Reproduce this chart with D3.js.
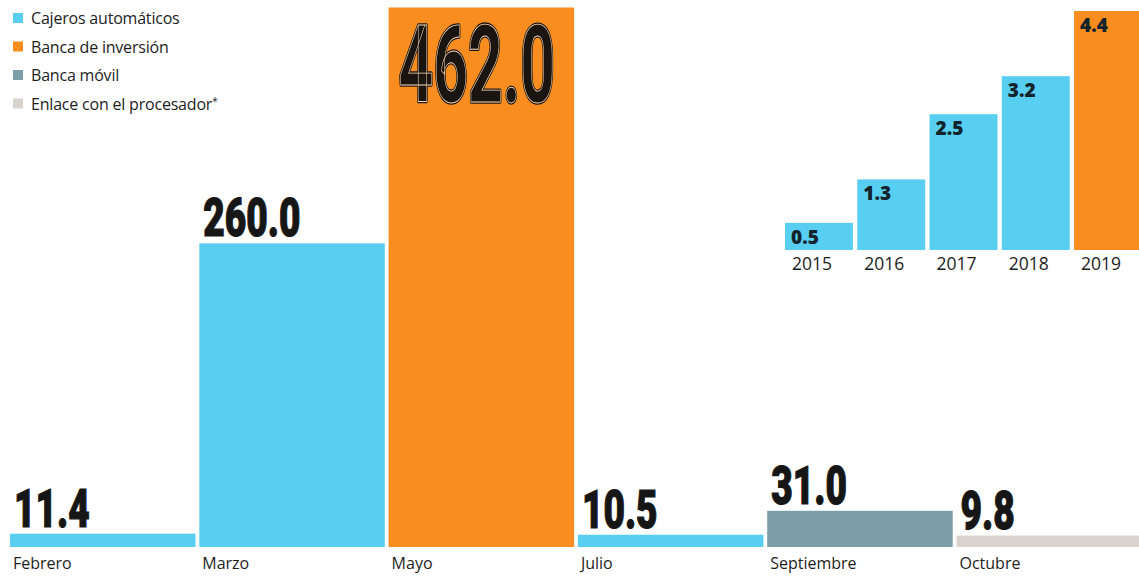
<!DOCTYPE html>
<html>
<head>
<meta charset="utf-8">
<script src="https://cdn.jsdelivr.net/npm/d3@7"></script>
<style>
  body { margin: 0; background: #fff; }
  svg { display: block; }
</style>
</head>
<body>
<svg id="chart" width="1139" height="576"></svg>
<script>
// datos principales (millones)
var months = ["Febrero", "Marzo", "Mayo", "Julio", "Septiembre", "Octubre"];
var monthValues = [11.4, 260.0, 462.0, 10.5, 31.0, 9.8];
var monthTypes = ["Cajeros automáticos", "Cajeros automáticos", "Banca de inversión",
                  "Cajeros automáticos", "Banca móvil", "Enlace con el procesador"];

// recuadro anual
var years = ["2015", "2016", "2017", "2018", "2019"];
var yearValues = [0.5, 1.3, 2.5, 3.2, 4.4];
var yearTypes = ["Cajeros automáticos", "Cajeros automáticos", "Cajeros automáticos",
                 "Cajeros automáticos", "Banca de inversión"];

var legendItems = ["Cajeros automáticos", "Banca de inversión", "Banca móvil", "Enlace con el procesador"];

var color = d3.scaleOrdinal()
    .domain(legendItems)
    .range(["#58cff0", "#f98d1f", "#7c9ea9", "#d9d3ce"]);

var svg = d3.select("#chart");
var bodyFont = "'Open Sans', sans-serif";
var numFont = "Roboto, 'DejaVu Sans', sans-serif";

// escalas del grafico principal
var x = d3.scaleBand()
    .domain(months)
    .range([10, 1142])
    .paddingInner(0.02);

var y = d3.scaleLinear()
    .domain([0, 462])
    .range([547, 7.5]);

var main = svg.append("g");

main.selectAll(".bar")
    .data(months)
  .enter().append("rect")
    .attr("class", "bar")
    .attr("x", function(d) { return x(d); })
    .attr("y", function(d, i) { return y(monthValues[i]); })
    .attr("width", x.bandwidth())
    .attr("height", function(d, i) { return y(0) - y(monthValues[i]); })
    .attr("fill", function(d, i) { return color(monthTypes[i]); });

// eje x sin linea, solo etiquetas
var xAxis = main.append("g")
    .attr("transform", "translate(0," + y(0) + ")")
    .call(d3.axisBottom(x).tickSize(0).tickPadding(0));
xAxis.select(".domain").remove();
xAxis.selectAll(".tick text")
    .attr("text-anchor", "start")
    .attr("x", -x.bandwidth() / 2 + 3)
    .attr("dy", "22px")
    .style("font-family", bodyFont)
    .style("font-size", "16px")
    .style("fill", "#1d1d1d");

// etiquetas de valor (fuente condensada)
main.selectAll(".val")
    .data(months.filter(function(d, i) { return monthValues[i] < 400; }))
  .enter().append("text")
    .attr("class", "val")
    .attr("transform", function(d) {
        var i = months.indexOf(d);
        return "translate(" + (x(d) + 4) + "," + (y(monthValues[i]) - 7) + ") scale(0.7,1)";
    })
    .style("font-family", numFont)
    .style("font-weight", "900")
    .style("font-size", "53px")
    .style("fill", "#161616")
    .style("stroke", "#161616")
    .style("stroke-width", "1.2px")
    .text(function(d) { return monthValues[months.indexOf(d)].toFixed(1); });

// etiqueta grande dentro de la barra de mayo
var big = months.filter(function(d, i) { return monthValues[i] >= 400; });
big.forEach(function(d) {
    var v = monthValues[months.indexOf(d)];
    var t = "translate(" + (x(d) + 10) + "," + (y(v) + 94) + ") scale(0.56,1)";
    main.append("text")
        .attr("transform", t)
        .style("font-family", numFont)
        .style("font-weight", "700")
        .style("font-size", "108px")
        .style("fill", "#1b1511")
        .style("stroke", "#1b1511")
        .style("stroke-width", "3.5px")
        .style("stroke-linejoin", "round")
        .text(v.toFixed(1));
    main.append("text")
        .attr("transform", t)
        .style("font-family", numFont)
        .style("font-weight", "700")
        .style("font-size", "108px")
        .style("fill", "none")
        .style("stroke", "#f3d3ae")
        .style("stroke-width", "0.9px")
        .text(v.toFixed(1));
});

// recuadro 2015-2019
var xi = d3.scaleBand()
    .domain(years)
    .range([785, 1142])
    .paddingInner(0.06);

var yi = d3.scaleLinear()
    .domain([0, 4.4])
    .range([250, 11]);

var inset = svg.append("g");

inset.selectAll(".ibar")
    .data(years)
  .enter().append("rect")
    .attr("class", "ibar")
    .attr("x", function(d) { return xi(d); })
    .attr("y", function(d, i) { return yi(yearValues[i]); })
    .attr("width", xi.bandwidth())
    .attr("height", function(d, i) { return yi(0) - yi(yearValues[i]); })
    .attr("fill", function(d, i) { return color(yearTypes[i]); });

inset.selectAll(".ival")
    .data(years)
  .enter().append("text")
    .attr("class", "ival")
    .attr("x", function(d) { return xi(d) + 6; })
    .attr("y", function(d, i) { return yi(yearValues[i]) + 21; })
    .style("font-family", bodyFont)
    .style("font-weight", "800")
    .style("font-size", "19px")
    .style("fill", "#13232b")
    .text(function(d, i) { return yearValues[i].toFixed(1); });

var iAxis = inset.append("g")
    .attr("transform", "translate(0," + yi(0) + ")")
    .call(d3.axisBottom(xi).tickSize(0).tickPadding(0));
iAxis.select(".domain").remove();
iAxis.selectAll(".tick text")
    .attr("text-anchor", "start")
    .attr("x", -xi.bandwidth() / 2 + 7)
    .attr("dy", "20px")
    .style("font-family", bodyFont)
    .style("font-size", "17.5px")
    .style("fill", "#1d1d1d");

// leyenda
var legend = svg.append("g")
    .attr("transform", "translate(13,0)");

var item = legend.selectAll(".leg")
    .data(legendItems)
  .enter().append("g")
    .attr("class", "leg")
    .attr("transform", function(d, i) { return "translate(0," + (24 + i * 28.5) + ")"; });

item.append("rect")
    .attr("x", 0)
    .attr("y", -11)
    .attr("width", 10)
    .attr("height", 10)
    .attr("fill", function(d) { return color(d); });

var lt = item.append("text")
    .attr("x", 18)
    .attr("y", 0)
    .style("font-family", bodyFont)
    .style("font-size", "16px")
    .style("letter-spacing", "-0.2px")
    .style("fill", "#1d1d1d")
    .text(function(d) { return d; });

lt.filter(function(d, i) { return i === 3; })
  .append("tspan")
    .attr("dy", "-5")
    .style("font-size", "10px")
    .text("*");
</script>
</body>
</html>
